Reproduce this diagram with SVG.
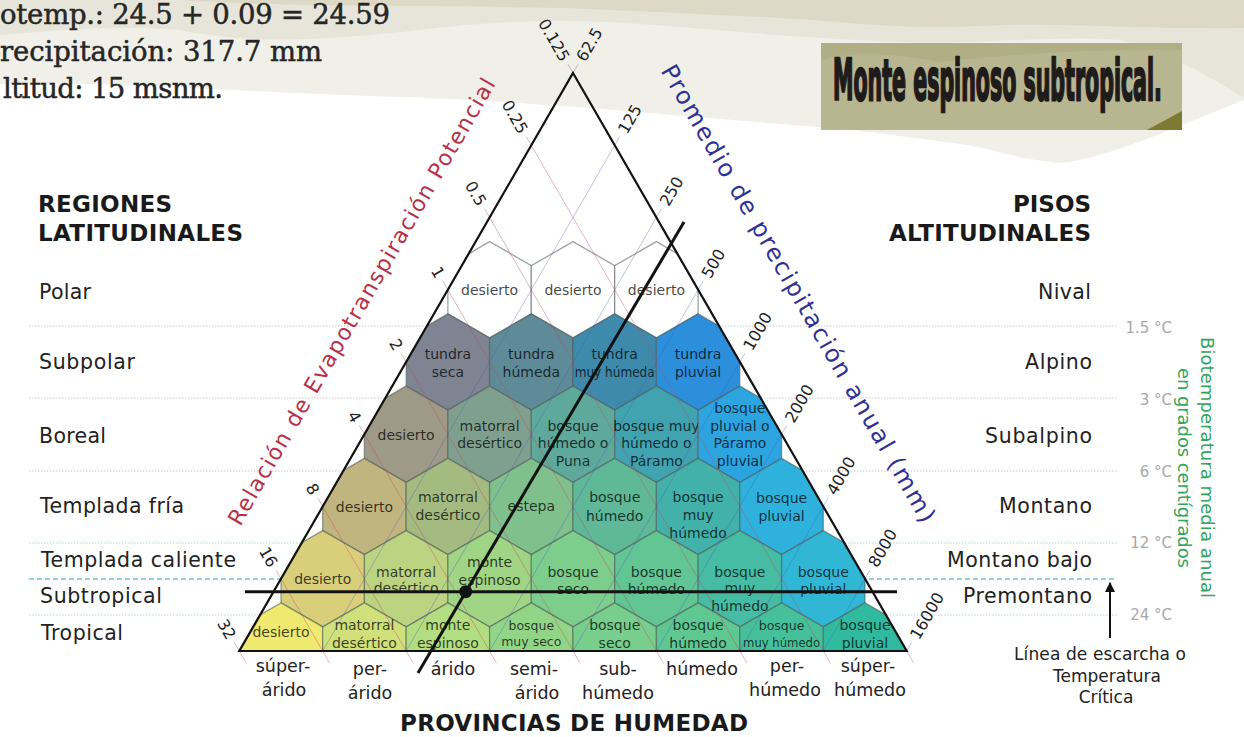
<svg xmlns="http://www.w3.org/2000/svg" xmlns:xlink="http://www.w3.org/1999/xlink" width="1244" height="737" viewBox="0 0 1244 737">
<defs>
<style>
.hx{stroke:#4d5a55;stroke-opacity:.55;stroke-width:1.3}
.ht{font-family:"DejaVu Sans",sans-serif;font-size:14px;text-anchor:middle;fill:#000;fill-opacity:.74}
.hs{font-size:12.5px}
.pl{stroke:#c0485a;stroke-opacity:.45;stroke-width:.9;fill:none}
.ql{stroke:#4a58b8;stroke-opacity:.4;stroke-width:.9;fill:none}
.tk{font-family:"DejaVu Sans",sans-serif;font-size:16px;fill:#222}
.lab{font-family:"DejaVu Sans",sans-serif;font-size:20.5px;fill:#222}
.hd{font-family:"DejaVu Sans",sans-serif;font-size:23px;font-weight:bold;fill:#1a1a1a}
.pv{font-family:"DejaVu Sans",sans-serif;font-size:17.5px;fill:#222;text-anchor:middle}
.tc{font-family:"DejaVu Sans",sans-serif;font-size:15px;fill:#a8a8a8;text-anchor:end}
.dot{stroke:#c9c9c9;stroke-width:1;stroke-dasharray:1.5 1.5}
.dot2{stroke:#b4d6d6;stroke-width:1;stroke-dasharray:1.5 1.5}
.tl{font-family:"DejaVu Serif",serif;font-size:27.5px;fill:#262626;stroke:#262626;stroke-width:.5}
.ann{stroke:#121212;stroke-width:3;fill:none}
.cap{font-family:"DejaVu Sans",sans-serif;font-size:17px;fill:#222;text-anchor:middle}
</style>
<path id="hx" d="M0,-48.17L41.71,-24.08L41.71,24.08L0,48.17L-41.71,24.08L-41.71,-24.08Z"/>
<clipPath id="tri"><polygon points="573,73 906.71,651 239.29,651"/></clipPath>
<marker id="arr" viewBox="0 0 10 10" refX="9" refY="5" markerWidth="10" markerHeight="10" markerUnits="userSpaceOnUse" orient="auto"><path d="M0,0L10,5L0,10Z" fill="#111"/></marker>
</defs>

<!-- background -->
<rect x="0" y="0" width="1244" height="737" fill="#ffffff"/>
<path d="M0,0H1244V100C1180,125 1110,158 1060,163C1010,158 990,148 967,145C900,136 860,130 820,127C700,118 520,100 400,97C250,93 100,80 0,84Z" fill="#f0efe8"/>
<path d="M0,0H1244V98C1200,70 1160,50 1120,40C1050,35 980,45 900,42C800,38 720,30 640,24C560,18 480,22 420,30C330,40 250,45 180,30C120,25 60,30 0,35Z" fill="#e7e5d9"/>
<path d="M180,0H1244V28C1150,30 1050,22 980,26C900,30 850,22 780,18C700,14 620,10 560,8C450,5 300,8 180,0Z" fill="#ddd9c6"/>

<!-- top-left text -->
<text class="tl" x="0" y="24" textLength="390">otemp.: 24.5 + 0.09 = 24.59</text>
<text class="tl" x="0" y="61" textLength="322">recipitación: 317.7 mm</text>
<text class="tl" x="3" y="98" textLength="220">ltitud: 15 msnm.</text>

<!-- title box -->
<g id="title">
<rect x="821" y="43" width="361" height="87" fill="#b8b691"/>
<path d="M821,43H1182V50C1100,48 1000,55 940,62C900,55 860,50 821,60Z" fill="#a9a67c" opacity=".5"/>
<polygon points="1182,111 1182,130 1147,130" fill="#7d7a34"/>
<text transform="translate(833 100) scale(0.42 1)" x="0" y="0" font-family="'Liberation Sans Narrow','DejaVu Sans Condensed','Liberation Sans',sans-serif" font-weight="bold" font-size="57" textLength="783" lengthAdjust="spacingAndGlyphs" fill="#1f1b1b" stroke="#1f1b1b" stroke-width="2.4">Monte espinoso subtropical.</text>
</g>

<!-- temperature guide lines -->
<g id="guides">
<line class="dot" x1="29" y1="326" x2="1117" y2="326"/>
<line class="dot" x1="29" y1="398" x2="1117" y2="398"/>
<line class="dot" x1="29" y1="471" x2="1117" y2="471"/>
<line class="dot2" x1="29" y1="543" x2="1117" y2="543"/>
<line class="dot2" x1="29" y1="615" x2="1117" y2="615"/>
<line x1="29" y1="579" x2="1117" y2="579" stroke="#2aa6b4" stroke-width="1.2" stroke-dasharray="5 3"/>
</g>

<!-- hexagon nodes -->
<g id="h1a"><g clip-path="url(#tri)"><use href="#hx" class="hx" transform="translate(489.6 289.75)" fill="#ffffff"/></g><text class="ht" x="489.6" y="294.5">desierto</text></g>
<g id="h1b"><g clip-path="url(#tri)"><use href="#hx" class="hx" transform="translate(573 289.75)" fill="#ffffff"/></g><text class="ht" x="573" y="294.5">desierto</text></g>
<g id="h1c"><g clip-path="url(#tri)"><use href="#hx" class="hx" transform="translate(656.4 289.75)" fill="#ffffff"/></g><text class="ht" x="656.4" y="294.5">desierto</text></g>

<g id="h2a"><g clip-path="url(#tri)"><use href="#hx" class="hx" transform="translate(447.9 362)" fill="#7e8492"/></g><text class="ht" x="447.9" y="358.5">tundra</text><text class="ht" x="447.9" y="376.5">seca</text></g>
<g id="h2b"><g clip-path="url(#tri)"><use href="#hx" class="hx" transform="translate(531.3 362)" fill="#5f8a97"/></g><text class="ht" x="531.3" y="358.5">tundra</text><text class="ht" x="531.3" y="376.5">húmeda</text></g>
<g id="h2c"><g clip-path="url(#tri)"><use href="#hx" class="hx" transform="translate(614.7 362)" fill="#3d8aad"/></g><text class="ht" x="614.7" y="358.5">tundra</text><text class="ht" x="614.7" y="376.5" textLength="80" lengthAdjust="spacingAndGlyphs">muy húmeda</text></g>
<g id="h2d"><g clip-path="url(#tri)"><use href="#hx" class="hx" transform="translate(698.1 362)" fill="#2b8fdc"/></g><text class="ht" x="698.1" y="358.5">tundra</text><text class="ht" x="698.1" y="376.5">pluvial</text></g>

<g id="h3a"><g clip-path="url(#tri)"><use href="#hx" class="hx" transform="translate(406.1 434.25)" fill="#9e9a87"/></g><text class="ht" x="406.1" y="439.5">desierto</text></g>
<g id="h3b"><g clip-path="url(#tri)"><use href="#hx" class="hx" transform="translate(489.6 434.25)" fill="#80a08f"/></g><text class="ht" x="489.6" y="430.5">matorral</text><text class="ht" x="489.6" y="448">desértico</text></g>
<g id="h3c"><g clip-path="url(#tri)"><use href="#hx" class="hx" transform="translate(573 434.25)" fill="#5ea99c"/></g><text class="ht" x="573" y="430.5">bosque</text><text class="ht" x="573" y="447.5">húmedo o</text><text class="ht" x="573" y="465.5">Puna</text></g>
<g id="h3d"><g clip-path="url(#tri)"><use href="#hx" class="hx" transform="translate(656.4 434.25)" fill="#40a3af"/></g><text class="ht" x="656.4" y="430.5">bosque muy</text><text class="ht" x="656.4" y="447.5">húmedo o</text><text class="ht" x="656.4" y="465.5">Páramo</text></g>
<g id="h3e"><g clip-path="url(#tri)"><use href="#hx" class="hx" transform="translate(739.9 434.25)" fill="#2ca4e0"/></g><text class="ht" x="739.9" y="412.5">bosque</text><text class="ht" x="739.9" y="430.5">pluvial o</text><text class="ht" x="739.9" y="447.5">Páramo</text><text class="ht" x="739.9" y="465.5">pluvial</text></g>

<g id="h4a"><g clip-path="url(#tri)"><use href="#hx" class="hx" transform="translate(364.4 506.5)" fill="#c0b47f"/></g><text class="ht" x="364.4" y="511.5">desierto</text></g>
<g id="h4b"><g clip-path="url(#tri)"><use href="#hx" class="hx" transform="translate(447.9 506.5)" fill="#a3bb81"/></g><text class="ht" x="447.9" y="501.5">matorral</text><text class="ht" x="447.9" y="519.5">desértico</text></g>
<g id="h4c"><g clip-path="url(#tri)"><use href="#hx" class="hx" transform="translate(531.3 506.5)" fill="#80c08d"/></g><text class="ht" x="531.3" y="510.5">estepa</text></g>
<g id="h4d"><g clip-path="url(#tri)"><use href="#hx" class="hx" transform="translate(614.7 506.5)" fill="#5fb898"/></g><text class="ht" x="614.7" y="501.5">bosque</text><text class="ht" x="614.7" y="520.5">húmedo</text></g>
<g id="h4e"><g clip-path="url(#tri)"><use href="#hx" class="hx" transform="translate(698.1 506.5)" fill="#42b1aa"/></g><text class="ht" x="698.1" y="501.5">bosque</text><text class="ht" x="698.1" y="519.5">muy</text><text class="ht" x="698.1" y="538">húmedo</text></g>
<g id="h4f"><g clip-path="url(#tri)"><use href="#hx" class="hx" transform="translate(781.6 506.5)" fill="#2eb1dc"/></g><text class="ht" x="781.6" y="502.5">bosque</text><text class="ht" x="781.6" y="520.5">pluvial</text></g>

<g id="h5a"><g clip-path="url(#tri)"><use href="#hx" class="hx" transform="translate(322.7 578.75)" fill="#d9cf7b"/></g><text class="ht" x="322.7" y="583.5">desierto</text></g>
<g id="h5b"><g clip-path="url(#tri)"><use href="#hx" class="hx" transform="translate(406.1 578.75)" fill="#bcd481"/></g><text class="ht" x="406.1" y="576.5">matorral</text><text class="ht" x="406.1" y="592.5">desértico</text></g>
<g id="h5c"><g clip-path="url(#tri)"><use href="#hx" class="hx" transform="translate(489.6 578.75)" fill="#9fd584"/></g><text class="ht" x="489.6" y="567">monte</text><text class="ht" x="489.6" y="584.5">espinoso</text></g>
<g id="h5d"><g clip-path="url(#tri)"><use href="#hx" class="hx" transform="translate(573 578.75)" fill="#7dcd8c"/></g><text class="ht" x="573" y="576.5">bosque</text><text class="ht" x="573" y="593.5">seco</text></g>
<g id="h5e"><g clip-path="url(#tri)"><use href="#hx" class="hx" transform="translate(656.4 578.75)" fill="#61c594"/></g><text class="ht" x="656.4" y="576.5">bosque</text><text class="ht" x="656.4" y="593.5">húmedo</text></g>
<g id="h5f"><g clip-path="url(#tri)"><use href="#hx" class="hx" transform="translate(739.9 578.75)" fill="#45bca3"/></g><text class="ht" x="739.9" y="576.5">bosque</text><text class="ht" x="739.9" y="592.5">muy</text><text class="ht" x="739.9" y="610.5">húmedo</text></g>
<g id="h5g"><g clip-path="url(#tri)"><use href="#hx" class="hx" transform="translate(823.3 578.75)" fill="#31b7d6"/></g><text class="ht" x="823.3" y="576.5">bosque</text><text class="ht" x="823.3" y="593.5">pluvial</text></g>

<g id="h6a"><g clip-path="url(#tri)"><use href="#hx" class="hx" transform="translate(281 651)" fill="#efe96f"/></g><text class="ht" x="281" y="637">desierto</text></g>
<g id="h6b"><g clip-path="url(#tri)"><use href="#hx" class="hx" transform="translate(364.4 651)" fill="#d0e17b"/></g><text class="ht" x="364.4" y="629.5">matorral</text><text class="ht" x="364.4" y="647.5">desértico</text></g>
<g id="h6c"><g clip-path="url(#tri)"><use href="#hx" class="hx" transform="translate(447.9 651)" fill="#b2dd81"/></g><text class="ht" x="447.9" y="629.5">monte</text><text class="ht" x="447.9" y="647.5">espinoso</text></g>
<g id="h6d"><g clip-path="url(#tri)"><use href="#hx" class="hx" transform="translate(531.3 651)" fill="#93d588"/></g><text class="ht hs" x="531.3" y="630">bosque</text><text class="ht hs" x="531.3" y="645.5">muy seco</text></g>
<g id="h6e"><g clip-path="url(#tri)"><use href="#hx" class="hx" transform="translate(614.7 651)" fill="#77ce8d"/></g><text class="ht" x="614.7" y="629.5">bosque</text><text class="ht" x="614.7" y="647.5">seco</text></g>
<g id="h6f"><g clip-path="url(#tri)"><use href="#hx" class="hx" transform="translate(698.1 651)" fill="#5ec792"/></g><text class="ht" x="698.1" y="629.5">bosque</text><text class="ht" x="698.1" y="647.5">húmedo</text></g>
<g id="h6g"><g clip-path="url(#tri)"><use href="#hx" class="hx" transform="translate(781.6 651)" fill="#46c09b"/></g><text class="ht hs" x="781.6" y="630">bosque</text><text class="ht hs" x="781.6" y="646.5" textLength="77" lengthAdjust="spacingAndGlyphs">muy húmedo</text></g>
<g id="h6h"><g clip-path="url(#tri)"><use href="#hx" class="hx" transform="translate(865 651)" fill="#30ba9f"/></g><text class="ht" x="865" y="629.5">bosque</text><text class="ht" x="865" y="647.5">pluvial</text></g>

<!-- grid lines (PET and precipitation) -->
<g id="grid">
<line class="pl" x1="526.29" y1="136.59" x2="830.29" y2="663.12"/>
<line class="pl" x1="484.57" y1="208.84" x2="746.86" y2="663.12"/>
<line class="pl" x1="442.86" y1="281.09" x2="663.43" y2="663.12"/>
<line class="pl" x1="401.14" y1="353.34" x2="580" y2="663.12"/>
<line class="pl" x1="359.43" y1="425.59" x2="496.57" y2="663.12"/>
<line class="pl" x1="317.71" y1="497.84" x2="413.14" y2="663.12"/>
<line class="pl" x1="276" y1="570.09" x2="329.71" y2="663.12"/>
<line class="pl" x1="568" y1="64.34" x2="573" y2="73"/>
<line class="pl" x1="906.71" y1="651" x2="913.71" y2="663.12"/>
<line class="pl" x1="234.29" y1="642.34" x2="246.29" y2="663.12"/>
<line class="ql" x1="619.71" y1="136.59" x2="322.71" y2="651"/>
<line class="ql" x1="661.43" y1="208.84" x2="406.14" y2="651"/>
<line class="ql" x1="703.14" y1="281.09" x2="489.57" y2="651"/>
<line class="ql" x1="744.86" y1="353.34" x2="573" y2="651"/>
<line class="ql" x1="786.57" y1="425.59" x2="656.43" y2="651"/>
<line class="ql" x1="828.29" y1="497.84" x2="739.86" y2="651"/>
<line class="ql" x1="870" y1="570.09" x2="823.29" y2="651"/>
<line class="ql" x1="578" y1="64.34" x2="573" y2="73"/>
<line class="ql" x1="911.71" y1="642.34" x2="906.71" y2="651"/>
</g>

<!-- triangle outline -->
<polygon id="triangle" points="573,73 906.71,651 239.29,651" fill="none" stroke="#111" stroke-width="2.2" stroke-linejoin="miter"/>

<!-- tick labels -->
<g id="pet-ticks" class="tk" text-anchor="end">
<text x="565.5" y="60" dy="0.35em" transform="rotate(60 565.5 60)">0.125</text>
<text x="523.79" y="132.25" dy="0.35em" transform="rotate(60 523.79 132.25)">0.25</text>
<text x="482.07" y="204.5" dy="0.35em" transform="rotate(60 482.07 204.5)">0.5</text>
<text x="440.36" y="276.75" dy="0.35em" transform="rotate(60 440.36 276.75)">1</text>
<text x="398.64" y="349" dy="0.35em" transform="rotate(60 398.64 349)">2</text>
<text x="356.93" y="421.25" dy="0.35em" transform="rotate(60 356.93 421.25)">4</text>
<text x="315.21" y="493.5" dy="0.35em" transform="rotate(60 315.21 493.5)">8</text>
<text x="273.5" y="565.75" dy="0.35em" transform="rotate(60 273.5 565.75)">16</text>
<text x="231.79" y="638" dy="0.35em" transform="rotate(60 231.79 638)">32</text>
</g>
<g id="pp-ticks" class="tk" text-anchor="start">
<text x="580.5" y="60" dy="0.35em" transform="rotate(-60 580.5 60)">62.5</text>
<text x="622.21" y="132.25" dy="0.35em" transform="rotate(-60 622.21 132.25)">125</text>
<text x="663.93" y="204.5" dy="0.35em" transform="rotate(-60 663.93 204.5)">250</text>
<text x="705.64" y="276.75" dy="0.35em" transform="rotate(-60 705.64 276.75)">500</text>
<text x="747.36" y="349" dy="0.35em" transform="rotate(-60 747.36 349)">1000</text>
<text x="789.07" y="421.25" dy="0.35em" transform="rotate(-60 789.07 421.25)">2000</text>
<text x="830.79" y="493.5" dy="0.35em" transform="rotate(-60 830.79 493.5)">4000</text>
<text x="872.5" y="565.75" dy="0.35em" transform="rotate(-60 872.5 565.75)">8000</text>
<text x="914.21" y="638" dy="0.35em" transform="rotate(-60 914.21 638)">16000</text>
</g>

<!-- axis titles -->
<text x="361.5" y="301.5" dy="0.35em" transform="rotate(-60 361.5 301.5)" font-family="'DejaVu Sans',sans-serif" font-size="22" fill="#b83047" text-anchor="middle" textLength="512">Relación de Evapotranspiración Potencial</text>
<text x="798.5" y="293.5" dy="0.35em" transform="rotate(60 798.5 293.5)" font-family="'DejaVu Sans',sans-serif" font-size="24" fill="#2f3096" text-anchor="middle" textLength="524">Promedio de precipitación anual (mm)</text>

<!-- left labels -->
<g id="regiones">
<text class="hd" x="38" y="212" textLength="134">REGIONES</text>
<text class="hd" x="38" y="241" textLength="205">LATITUDINALES</text>
<text class="lab" x="39" y="299" textLength="52">Polar</text>
<text class="lab" x="39" y="369" textLength="96">Subpolar</text>
<text class="lab" x="39" y="443" textLength="67">Boreal</text>
<text class="lab" x="40" y="513" textLength="144">Templada fría</text>
<text class="lab" x="41" y="567" textLength="195">Templada caliente</text>
<text class="lab" x="40" y="603" textLength="122">Subtropical</text>
<text class="lab" x="41" y="640" textLength="82">Tropical</text>
</g>

<!-- right labels -->
<g id="pisos" text-anchor="end">
<text class="hd" x="1091" y="212" textLength="78">PISOS</text>
<text class="hd" x="1091" y="241" textLength="202">ALTITUDINALES</text>
<text class="lab" x="1091" y="299" textLength="53">Nival</text>
<text class="lab" x="1092" y="369" textLength="67">Alpino</text>
<text class="lab" x="1092" y="443" textLength="107">Subalpino</text>
<text class="lab" x="1092" y="513" textLength="93">Montano</text>
<text class="lab" x="1092" y="567" textLength="145">Montano bajo</text>
<text class="lab" x="1092" y="603" textLength="129">Premontano</text>
</g>

<!-- temperature labels -->
<g id="temps">
<text class="tc" x="1172" y="333">1.5 °C</text>
<text class="tc" x="1172" y="405">3 °C</text>
<text class="tc" x="1172" y="477">6 °C</text>
<text class="tc" x="1172" y="548">12 °C</text>
<text class="tc" x="1172" y="620">24 °C</text>
</g>

<!-- biotemperature vertical title -->
<g id="biotemp" font-family="'DejaVu Sans',sans-serif" font-size="18" fill="#33a55c" text-anchor="middle">
<text x="1207" y="467.5" dy="0.35em" transform="rotate(90 1207 467.5)" textLength="261">Biotemperatura media anual</text>
<text x="1184" y="468" dy="0.35em" transform="rotate(90 1184 468)" textLength="200">en grados centígrados</text>
</g>

<!-- frost line caption -->
<g id="frost">
<line x1="1110" y1="638" x2="1110" y2="583" stroke="#111" stroke-width="2" marker-end="url(#arr)"/>
<text class="cap" x="1100" y="660" textLength="172">Línea de escarcha o</text>
<text class="cap" x="1107" y="682">Temperatura</text>
<text class="cap" x="1106" y="703">Crítica</text>
</g>

<!-- humidity provinces -->
<g id="provincias">
<text class="pv" x="283" y="672">súper-</text>
<text class="pv" x="284" y="696">árido</text>
<text class="pv" x="370" y="675">per-</text>
<text class="pv" x="370" y="699">árido</text>
<text class="pv" x="453" y="675">árido</text>
<text class="pv" x="534" y="675">semi-</text>
<text class="pv" x="537" y="699">árido</text>
<text class="pv" x="618" y="675">sub-</text>
<text class="pv" x="618" y="699">húmedo</text>
<text class="pv" x="702" y="675">húmedo</text>
<text class="pv" x="787" y="672">per-</text>
<text class="pv" x="785" y="696">húmedo</text>
<text class="pv" x="868" y="672">súper-</text>
<text class="pv" x="870" y="696">húmedo</text>
<text class="hd" x="574" y="731" text-anchor="middle" textLength="348">PROVINCIAS DE HUMEDAD</text>
</g>

<!-- annotation connectors -->
<g id="connectors">
<line class="ann" x1="684" y1="222" x2="418" y2="673"/>
<line class="ann" x1="245" y1="591.7" x2="897" y2="591.7"/>
<circle cx="465.7" cy="591.7" r="6.5" fill="#121212"/>
</g>
</svg>
